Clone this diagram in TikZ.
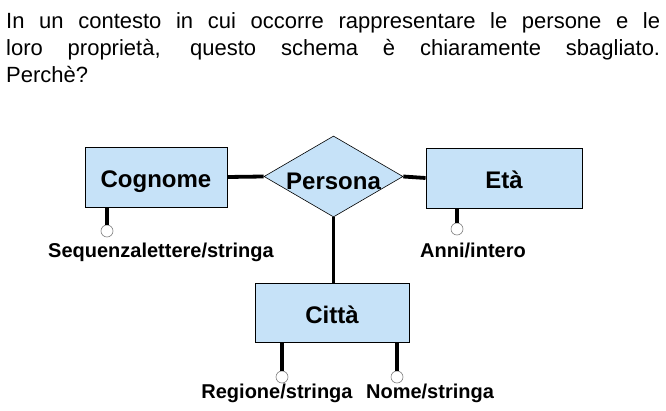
\documentclass[tikz,border=0pt]{standalone}
\usepackage{fontspec}
\setmainfont{Liberation Sans}
\usepackage{xcolor}
\usetikzlibrary{positioning, shapes.geometric}

\definecolor{erblue}{RGB}{198,226,248}

\begin{document}
\begin{tikzpicture}[x=1pt, y=1pt,
    entity/.style={draw, fill=erblue, line width=0.9pt, minimum height=60pt, text centered, text height=21pt, text depth=0pt, font=\fontsize{24}{26}\selectfont\bfseries},
    rel/.style={draw, fill=erblue, shape=diamond, aspect=1.7, inner sep=0pt, line width=0.6pt, minimum width=139pt, minimum height=81pt, text height=21pt, text depth=0pt, font=\fontsize{24}{26}\selectfont\bfseries},
    attr/.style={circle, draw=gray, fill=white, line width=0.6pt, minimum size=12pt, inner sep=0pt},
    lab/.style={font=\fontsize{20}{22}\selectfont\bfseries, inner sep=0pt, anchor=base},
    link/.style={line width=3.8pt}]

    \useasboundingbox (0,0) rectangle (666,410);

    % Question
    \node (q) [anchor=north west, inner sep=0pt, text width=654pt, align=justify, font=\fontsize{22}{26.7}\selectfont] at (6,397.5)
      {In un contesto in cui occorre rappresentare le persone e le\linebreak loro proprietà, questo schema è chiaramente sbagliato.\linebreak Perchè?};

    % Draw entities
    \node (persona) [rel] at (333.5,233.5) {\raisebox{-3pt}{Persona}};
    \node (cognome) [entity, minimum width=142pt] at (156,233) {Cognome};
    \node (eta) [entity, minimum width=156pt] at (504,232) {Età};
    \node (citta) [entity, minimum width=154pt, minimum height=59pt] at (332,97.5) {Città};

    % Draw attributes
    \node (a1) [attr] at (107,179) {};
    \node (a2) [attr] at (457,181) {};
    \node (a3) [attr] at (282,33) {};
    \node (a4) [attr] at (397,33) {};

    \node (l1) [lab] at (161,152.5) {Sequenzalettere/stringa};
    \node (l2) [lab] at (473,152.5) {Anni/intero};
    \node (l3) [lab] at (277,12) {Regione/stringa};
    \node (l4) [lab] at (430,12) {Nome/stringa};

    % Draw lines
    \draw[link] (cognome.east) -- (persona.west);
    \draw[link] (persona.east) -- (eta.west);
    \draw[link] (persona.south) -- (persona.south |- citta.north);
    \draw[link] (a1 |- cognome.south) -- (a1.north);
    \draw[link] (a2 |- eta.south) -- (a2.north);
    \draw[link] (a3 |- citta.south) -- (a3.north);
    \draw[link] (a4 |- citta.south) -- (a4.north);

\end{tikzpicture}
\end{document}
